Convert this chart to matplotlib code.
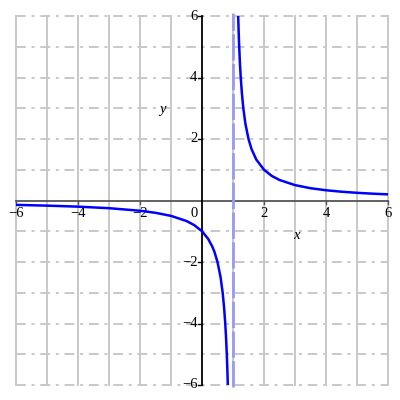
import matplotlib
matplotlib.use("Agg")
import matplotlib.pyplot as plt

# values: y = 1/(x-1), two branches and the asymptote x = 1
left_x = [-6, -5, -4, -3, -2, -1.5, -1, -0.5, -0.25, 0, 0.2, 0.333, 0.4, 0.5,
          0.6, 0.667, 0.714, 0.75, 0.778, 0.8, 0.818, 0.833]
left_y = [-0.143, -0.167, -0.2, -0.25, -0.333, -0.4, -0.5, -0.667, -0.8, -1,
          -1.25, -1.5, -1.667, -2, -2.5, -3, -3.5, -4, -4.5, -5, -5.5, -6]
right_x = [1.167, 1.182, 1.2, 1.222, 1.25, 1.286, 1.333, 1.4, 1.5, 1.6, 1.75,
           2, 2.25, 2.5, 3, 3.5, 4, 4.5, 5, 5.5, 6]
right_y = [6, 5.5, 5, 4.5, 4, 3.5, 3, 2.5, 2, 1.667, 1.333,
           1, 0.8, 0.667, 0.5, 0.4, 0.333, 0.286, 0.25, 0.222, 0.2]
asymptote_x = 1
x_ticks = [-6, -4, -2, 2, 4, 6]
y_ticks = [-6, -4, -2, 2, 4, 6]
grid_pos = [-6, -5, -4, -3, -2, -1, 1, 2, 3, 4, 5, 6]

plt.rcParams['font.family'] = ['Liberation Serif', 'DejaVu Serif']

fig = plt.figure(figsize=(4, 4), dpi=100)
ax = fig.add_axes([0.04, 0.0375, 0.93, 0.9225])
ax.set_xlim(-6, 6)
ax.set_ylim(-6, 6)
ax.axis('off')

grid_col = '#c8c8c8'
for g in grid_pos:
    ax.plot([g, g], [-6, 6], color=grid_col, lw=1.4, clip_on=False, zorder=1)
    ax.plot([-6, 6], [g, g], color=grid_col, lw=1.4, clip_on=False, zorder=1,
            linestyle=(0, (5, 3, 1.5, 3)))

# axes through the origin
ax.plot([-6, 6], [0, 0], color='#555555', lw=1.3, clip_on=False, zorder=2)
ax.plot([0, 0], [-6, 6], color='black', lw=1.3, clip_on=False, zorder=2)
for t in x_ticks:
    ax.plot([t, t], [0, -0.12], color='#555555', lw=1, clip_on=False, zorder=2)
    ax.text(t, -0.2, '\u2212%d' % -t if t < 0 else str(t), ha='center', va='top',
            fontsize=10.5)
ax.text(-0.15, -0.2, '0', ha='right', va='top', fontsize=10.5)
for t in y_ticks:
    ax.plot([0, -0.12], [t, t], color='black', lw=1, clip_on=False, zorder=2)
    ax.text(-0.15, t, '\u2212%d' % -t if t < 0 else str(t), ha='right', va='center',
            fontsize=10.5)

ax.plot([asymptote_x, asymptote_x], [-6.05, 6.1], color='#9a9af5', lw=2,
        linestyle=(0, (9.5, 1.2)), clip_on=False, zorder=3)
ax.plot(left_x, left_y, color='#0000ff', lw=1.8, zorder=4)
ax.plot(right_x, right_y, color='#0000ff', lw=1.8, zorder=4)

ax.text(3.03, -1.13, 'x', style='italic', ha='center', va='center', fontsize=10.5)
ax.text(-1.29, 2.97, 'y', style='italic', ha='center', va='center', fontsize=10.5)

fig.savefig('out.png', dpi=100)
